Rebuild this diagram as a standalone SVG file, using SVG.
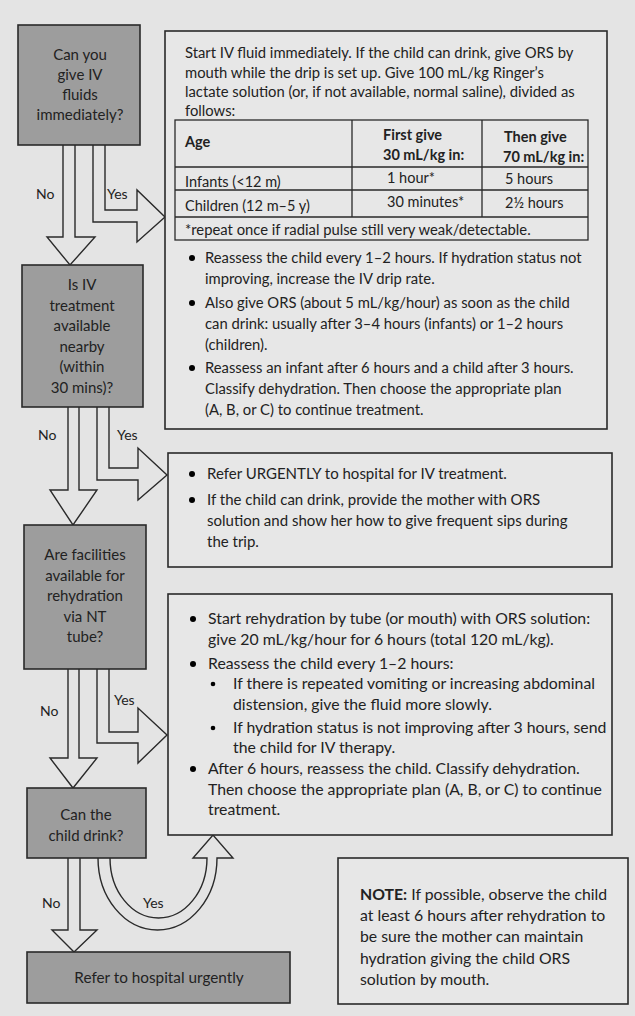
<svg xmlns="http://www.w3.org/2000/svg" width="635" height="1016" viewBox="0 0 635 1016">
<style>
.bg{fill:#e4e4e4}
.dec{fill:#9d9d9d;stroke:#2a2a2a;stroke-width:1.6}
.box{fill:#e7e7e7;stroke:#2a2a2a;stroke-width:1.6}
.arr{fill:#e4e4e4;stroke:#2a2a2a;stroke-width:1.4;stroke-linejoin:miter}
.grid{fill:none;stroke:#2a2a2a;stroke-width:1.3}
text{font-family:Lato,"Open Sans","Liberation Sans",sans-serif;fill:#222}
.t{font-size:14.8px}
.tb{font-size:14.5px}
.r{font-size:15px}
.n{font-size:15.8px}
.d{font-size:15px;text-anchor:middle}
.b{font-weight:bold}
.lab{font-size:14px}
</style>
<rect class="bg" x="0" y="0" width="635" height="1016"/>

<g id="connectors">
  <path class="arr" d="M63,145 V237 H47 L70,265 L95,237 H75 V145"/>
  <path class="arr" d="M93,145 V222 H137 V242 L165,217 L137,190 V210 H105 V145"/>
  <path class="arr" d="M68,407 V490 H50 L73,525 L97,490 H79 V407"/>
  <path class="arr" d="M97,407 V480 H138 V500 L167,475 L138,448 V468 H109 V407"/>
  <path class="arr" d="M68,669 V758 H50 L73,788 L97,758 H79 V669"/>
  <path class="arr" d="M97,669 V743 H138 V763 L167,735 L138,708 V732 H109 V669"/>
  <path class="arr" d="M68,858 V930 H52 L74,952 L97,930 H80 V858"/>
  <path class="arr" d="M98,858 A59.5,72 0 0 0 217,858 H233 L213,835 L193,858 H207 A48.5,60 0 0 1 110,858"/>
  <text class="lab" x="36" y="199">No</text>
  <text class="lab" x="107" y="199">Yes</text>
  <text class="lab" x="38" y="440">No</text>
  <text class="lab" x="117" y="440">Yes</text>
  <text class="lab" x="40" y="716">No</text>
  <text class="lab" x="114" y="705">Yes</text>
  <text class="lab" x="42" y="908">No</text>
  <text class="lab" x="143" y="908">Yes</text>
</g>

<g id="q1">
  <rect class="dec" x="18" y="25" width="122" height="120"/>
  <text class="d" x="80" y="60">Can you</text>
  <text class="d" x="80" y="80">give IV</text>
  <text class="d" x="80" y="100">fluids</text>
  <text class="d" x="80" y="120">immediately?</text>
</g>

<g id="plan-iv">
  <rect class="box" x="165" y="31" width="442" height="398"/>
  <text class="t" x="185" y="58">Start IV fluid immediately. If the child can drink, give ORS by</text>
  <text class="t" x="185" y="78">mouth while the drip is set up. Give 100 mL/kg Ringer’s</text>
  <text class="t" x="185" y="97">lactate solution (or, if not available, normal saline), divided as</text>
  <text class="t" x="185" y="116">follows:</text>
  <rect class="grid" x="175" y="120" width="413" height="120"/>
  <path class="grid" d="M175,167 H588 M175,190 H588 M175,217 H588 M352,120 V217 M482,120 V217"/>
  <text class="tb b" x="185" y="147">Age</text>
  <text class="tb b" x="383" y="140">First give</text>
  <text class="tb b" x="383" y="160">30 mL/kg in:</text>
  <text class="tb b" x="504" y="142">Then give</text>
  <text class="tb b" x="503" y="162">70 mL/kg in:</text>
  <text class="tb" x="185" y="187">Infants (&lt;12 m)</text>
  <text class="tb" x="387" y="183">1 hour*</text>
  <text class="tb" x="505" y="184">5 hours</text>
  <text class="tb" x="185" y="211">Children (12 m–5 y)</text>
  <text class="tb" x="387" y="207">30 minutes*</text>
  <text class="tb" x="505" y="208">2½ hours</text>
  <text class="t" x="185" y="235">*repeat once if radial pulse still very weak/detectable.</text>
  <circle cx="192" cy="258" r="3"/>
  <text class="t" x="205" y="263">Reassess the child every 1–2 hours. If hydration status not</text>
  <text class="t" x="205" y="284">improving,  increase the IV drip rate.</text>
  <circle cx="192" cy="303" r="3"/>
  <text class="t" x="205" y="308">Also give ORS (about 5 mL/kg/hour) as soon as the child</text>
  <text class="t" x="205" y="329">can drink: usually after 3–4 hours (infants) or 1–2 hours</text>
  <text class="t" x="205" y="350">(children).</text>
  <circle cx="192" cy="368" r="3"/>
  <text class="t" x="205" y="373">Reassess an infant after 6 hours and a child after 3 hours.</text>
  <text class="t" x="205" y="394">Classify dehydration. Then choose the appropriate plan</text>
  <text class="t" x="205" y="415">(A, B, or C) to continue treatment.</text>
</g>

<g id="q2">
  <rect class="dec" x="22" y="265" width="121" height="142"/>
  <text class="d" x="82" y="290">Is IV</text>
  <text class="d" x="82" y="311">treatment</text>
  <text class="d" x="82" y="331">available</text>
  <text class="d" x="82" y="352">nearby</text>
  <text class="d" x="82" y="372">(within</text>
  <text class="d" x="82" y="393">30 mins)?</text>
</g>

<g id="refer-iv">
  <rect class="box" x="168" y="453" width="444" height="114"/>
  <circle cx="192" cy="474" r="3"/>
  <text class="r" x="207" y="479">Refer URGENTLY to hospital for IV treatment.</text>
  <circle cx="192" cy="500" r="3"/>
  <text class="r" x="207" y="505">If the child can drink, provide the mother with ORS</text>
  <text class="r" x="207" y="526">solution and show her how to give frequent sips during</text>
  <text class="r" x="207" y="547">the trip.</text>
</g>

<g id="q3">
  <rect class="dec" x="24" y="525" width="122" height="144"/>
  <text class="d" x="85" y="560">Are facilities</text>
  <text class="d" x="85" y="581">available for</text>
  <text class="d" x="85" y="601">rehydration</text>
  <text class="d" x="85" y="622">via NT</text>
  <text class="d" x="85" y="642">tube?</text>
</g>

<g id="plan-nt">
  <rect class="box" x="168" y="594" width="444" height="241"/>
  <circle cx="193" cy="619" r="3"/>
  <text class="n" x="208" y="624">Start rehydration by tube (or mouth) with ORS solution:</text>
  <text class="n" x="208" y="645">give 20 mL/kg/hour for 6 hours (total 120 mL/kg).</text>
  <circle cx="193" cy="664" r="3"/>
  <text class="n" x="208" y="669">Reassess the child every 1–2 hours:</text>
  <circle cx="213" cy="684" r="2.3"/>
  <text class="n" x="233" y="689">If there is repeated vomiting or increasing abdominal</text>
  <text class="n" x="233" y="710">distension, give the fluid more slowly.</text>
  <circle cx="213" cy="728" r="2.3"/>
  <text class="n" x="233" y="733">If hydration status is not improving after 3 hours, send</text>
  <text class="n" x="233" y="753">the child for IV therapy.</text>
  <circle cx="193" cy="769" r="3"/>
  <text class="n" x="208" y="774">After 6 hours, reassess the child. Classify dehydration.</text>
  <text class="n" x="208" y="795">Then choose the appropriate plan (A, B, or C) to continue</text>
  <text class="n" x="208" y="815">treatment.</text>
</g>

<g id="q4">
  <rect class="dec" x="27" y="788" width="119" height="70"/>
  <text class="d" x="86" y="820">Can the</text>
  <text class="d" x="86" y="841">child drink?</text>
</g>

<g id="refer-hospital">
  <rect class="dec" x="27" y="952" width="263" height="51"/>
  <text class="d" x="159" y="983" style="font-size:15.3px">Refer to hospital urgently</text>
</g>

<g id="note">
  <rect class="box" x="338" y="858" width="290" height="146"/>
  <text class="n" x="360" y="900"><tspan class="b">NOTE:</tspan> If possible, observe the child</text>
  <text class="n" x="360" y="921">at least 6 hours after rehydration to</text>
  <text class="n" x="360" y="942">be sure the mother can maintain</text>
  <text class="n" x="360" y="964">hydration giving the child ORS</text>
  <text class="n" x="360" y="985">solution by mouth.</text>
</g>
</svg>
